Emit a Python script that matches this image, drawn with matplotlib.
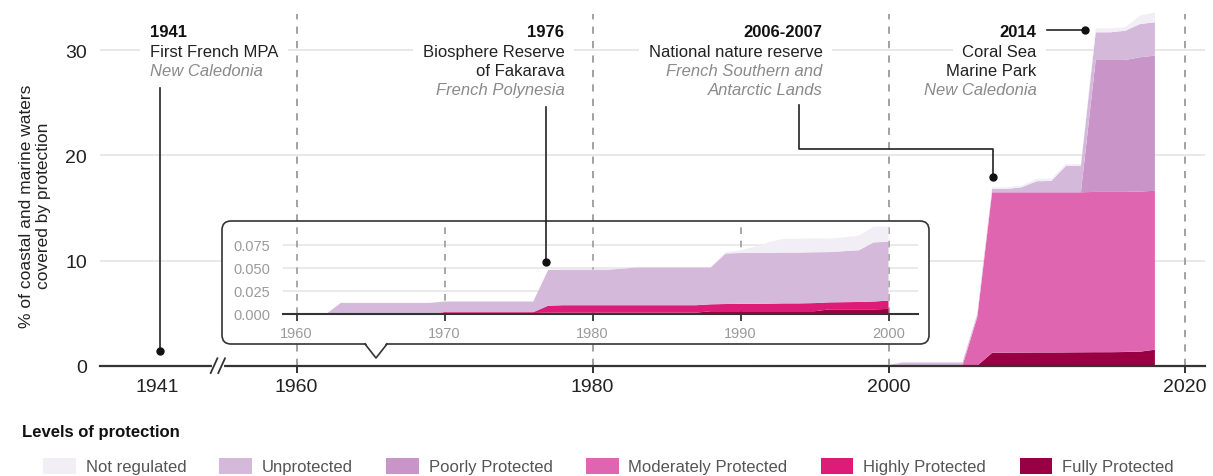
import matplotlib
matplotlib.use("Agg")
import matplotlib.pyplot as plt
from matplotlib.patches import FancyBboxPatch, Polygon, Patch
from matplotlib.lines import Line2D

plt.rcParams['font.family'] = ['Liberation Sans', 'DejaVu Sans']

# ---------------- data (% of coastal and marine waters) ----------------
years = list(range(1960, 2019))

fully = ([0] * 10 + [0.001] * 7 + [0.0015] * 11 + [0.003] * 8 + [0.005] * 4 + [0.0055]
         + [0.006] * 5 + [0.006]
         + [1.22, 1.23, 1.24, 1.25, 1.25, 1.26, 1.27, 1.28, 1.28, 1.30, 1.33, 1.52])
highly = ([0] * 10 + [0.001] * 7 + [0.0075] + [0.008] * 10
          + [0.0075, 0.0078, 0.008, 0.008, 0.0082, 0.0085, 0.0085, 0.0088]
          + [0.0076, 0.0078, 0.008, 0.0085] + [0.009]
          + [0.01] * 5 + [0.012] + [0.012] * 12)
moderately = ([0] * 46 + [4.6]
              + [15.25, 15.24, 15.23, 15.22, 15.22, 15.21, 15.20, 15.23, 15.23, 15.21, 15.21, 15.10])
poorly = [0] * 54 + [12.54, 12.54, 12.54, 12.77, 12.84]
unprotected = ([0, 0, 0] + [0.012] * 7 + [0.0115] * 7 + [0.0386] + [0.0385] * 4 + [0.0395]
               + [0.041] * 5 + [0.040] + [0.0547] + [0.055] * 6
               + [0.0544, 0.0552, 0.056, 0.064] + [0.0636]
               + [0.30] * 5 + [0.30]
               + [0.32, 0.32, 0.48, 1.05, 1.08, 2.53, 2.53, 2.63, 2.63, 2.78, 3.16, 3.17])
not_regulated = ([0] * 17 + [0.0005] * 11 + [0.0005]
                 + [0.0015, 0.003, 0.007, 0.012] + [0.015] * 3
                 + [0.0145, 0.015, 0.0157, 0.017] + [0.0165]
                 + [0.05] * 5 + [0.05]
                 + [0.16, 0.16, 0.15, 0.22, 0.22, 0.16, 0.16, 0.38, 0.38, 0.33, 0.79, 0.95])

levels = ['Fully Protected', 'Highly Protected', 'Moderately Protected',
          'Poorly Protected', 'Unprotected', 'Not regulated']
colors = ['#980043', '#dd1c77', '#df65b0', '#c994c7', '#d4b9da', '#f1eef6']
series = [fully, highly, moderately, poorly, unprotected, not_regulated]

main_yticks = [0, 10, 20, 30]
main_xticks = [1960, 1980, 2000, 2020]
inset_xticks = [1960, 1970, 1980, 1990, 2000]
inset_yticks = [0.0, 0.025, 0.05, 0.075]
inset_end = 2000

# ---------------- layout helpers ----------------
W, H = 1213, 477
fig = plt.figure(figsize=(W / 100, H / 100), dpi=100)

def fx(px):
    return px / W

def fy(py):
    return 1 - py / H

# main axes: 1960 at 296.5px, 14.8 px/yr ; y=0 at 366.7px, 10.52 px/unit
def X(px):
    return 1960 + (px - 296.5) / 14.8

def Y(py):
    return (366.7 - py) / 10.52

ax = fig.add_axes([fx(100), fy(366.7), fx(1205) - fx(100), 366.7 / H])
ax.set_zorder(1)
ax.set_xlim(X(100), X(1205))
ax.set_ylim(0, Y(0))

ax.stackplot(years, *series, colors=colors, linewidth=0, zorder=3)

for v in main_yticks[1:]:
    ax.axhline(v, color='#e6e6e6', lw=1.3, zorder=1)
ax.vlines(main_xticks, 0, Y(15), colors='#9a9a9a', linestyles=(0, (4, 4)), lw=1.3, zorder=2)

for s in ['left', 'top', 'right']:
    ax.spines[s].set_visible(False)
ax.spines['bottom'].set_color('#333333')
ax.spines['bottom'].set_linewidth(1.6)
ax.spines['bottom'].set_zorder(4)

x1941 = X(157)
ax.set_xticks([x1941] + main_xticks, labels=['1941'] + [str(t) for t in main_xticks])
ax.xaxis.get_major_ticks()[0].tick1line.set_visible(False)
ax.tick_params(axis='x', length=5, width=1.4, color='#333333', pad=3.5,
               labelsize=14, labelcolor='#222222')
ax.set_yticks(main_yticks)
ax.tick_params(axis='y', length=0, pad=9.5, labelsize=14, labelcolor='#222222')

# axis break //
ax.add_line(Line2D([X(213.5), X(222)], [Y(366.7), Y(366.7)], color='white', lw=3,
                   zorder=5, clip_on=False))
for x0 in (210.7, 218.3):
    ax.add_line(Line2D([X(x0), X(x0 + 6.7)], [Y(374), Y(359.3)], color='#333333', lw=1.3,
                       zorder=6, clip_on=False))

fig.text(fx(35), fy(206), '% of coastal and marine waters\ncovered by protection',
         rotation=90, ha='center', va='center', fontsize=12.5, color='#222222',
         multialignment='center', linespacing=1.15)

# ---------------- annotations ----------------
def block(x_px, lines, ha):
    baselines = [37, 57, 76, 95]
    for i, (txt, style) in enumerate(lines):
        kw = dict(fontsize=12, ha=ha, va='baseline', clip_on=False)
        if style == 'b':
            kw.update(fontweight='bold', color='#111111')
        elif style == 'i':
            kw.update(style='italic', color='#8a8a8a')
        else:
            kw.update(color='#222222')
        if i == 1:
            kw.update(bbox=dict(facecolor='white', edgecolor='none', pad=7), zorder=6)
        else:
            kw.update(zorder=7)
        ax.text(X(x_px), Y(baselines[i]), txt, **kw)

block(150, [('1941', 'b'), ('First French MPA', 'n'), ('New Caledonia', 'i')], 'left')
block(564.3, [('1976', 'b'), ('Biosphere Reserve', 'n'), ('of Fakarava', 'n'),
              ('French Polynesia', 'i')], 'right')
block(822.7, [('2006-2007', 'b'), ('National nature reserve', 'n'),
              ('French Southern and', 'i'), ('Antarctic Lands', 'i')], 'right')
block(1036.7, [('2014', 'b'), ('Coral Sea', 'n'), ('Marine Park', 'n'),
               ('New Caledonia', 'i')], 'right')

# ---------------- inset box ----------------
box = FancyBboxPatch((2.22, (H - 345) / 100), 7.07, 1.23,
                     boxstyle="round,pad=0,rounding_size=0.09",
                     transform=fig.dpi_scale_trans, facecolor='white',
                     edgecolor='#333333', lw=1.2, zorder=2)
fig.add_artist(box)
fig.add_artist(Polygon([(3.655, 1.335), (3.865, 1.335), (3.76, 1.19)], closed=True,
                       facecolor='white', edgecolor='none',
                       transform=fig.dpi_scale_trans, zorder=2.1))
fig.add_artist(Line2D([3.65, 3.76, 3.87], [1.32, 1.18, 1.32], color='#333333', lw=1.2,
                      transform=fig.dpi_scale_trans, zorder=2.2))

# ---------------- inset axes ----------------
n_in = years.index(inset_end) + 1
axi = fig.add_axes([fx(283), fy(315), fx(918) - fx(283), (315 - 227.2) / H])
axi.set_zorder(3)
axi.patch.set_alpha(0)
axi.set_xlim(X(283), X(918))
axi.set_ylim(0, 0.095)
axi.stackplot(years[:n_in], *[s[:n_in] for s in series], colors=colors, linewidth=0,
              zorder=3)
for v in inset_yticks[1:]:
    axi.axhline(v, color='#e6e6e6', lw=1.2, zorder=1)
axi.vlines(inset_xticks, 0, 0.095, colors='#9a9a9a', linestyles=(0, (4, 4)), lw=1.2,
           zorder=2)
for s in ['left', 'top', 'right']:
    axi.spines[s].set_visible(False)
axi.spines['bottom'].set_color('#333333')
axi.spines['bottom'].set_linewidth(1.5)
axi.spines['bottom'].set_zorder(4)
axi.set_xticks(inset_xticks)
axi.set_yticks(inset_yticks, labels=[f'{v:.3f}' for v in inset_yticks])
axi.tick_params(axis='x', length=5, width=1.3, color='#333333', pad=4,
                labelsize=10.5, labelcolor='#9a9a9a')
axi.tick_params(axis='y', length=0, pad=9, labelsize=10.5, labelcolor='#9a9a9a')

# ---------------- connectors ----------------
def conn(xs, ys, dot):
    fig.add_artist(Line2D(xs, ys, color='#222222', lw=1.2, transform=ax.transData,
                          zorder=8, clip_on=False))
    fig.add_artist(Line2D([dot[0]], [dot[1]], marker='o', ms=5, color='#111111',
                          transform=ax.transData, zorder=9, clip_on=False))

conn([X(160), X(160)], [Y(89), Y(351.7)], (X(160), Y(351.7)))
# 1976 dot sits in the inset
d76 = ax.transData.inverted().transform(axi.transData.transform((X(546), 0.056)))
conn([X(546), X(546)], [Y(108), d76[1]], (X(546), d76[1]))
conn([X(799), X(799), X(992.7), X(992.7)], [Y(106), Y(150), Y(150), Y(177.7)],
     (X(992.7), Y(177.7)))
conn([X(1046.7), X(1085)], [Y(31), Y(31)], (X(1085), Y(31)))

# ---------------- legend ----------------
fig.text(fx(22), fy(433), 'Levels of protection', fontsize=12, fontweight='bold',
         color='#111111', va='center')
handles = [Patch(facecolor=c, edgecolor='none', label=l)
           for l, c in zip(levels[::-1], colors[::-1])]
fig.legend(handles=handles, loc='center left', bbox_to_anchor=(fx(43), fy(467)),
           ncol=6, frameon=False, fontsize=12, handlelength=1.95, handleheight=1.1,
           handletextpad=0.6, columnspacing=2.0, borderpad=0, borderaxespad=0,
           labelcolor='#555555')

fig.savefig('out.png', dpi=100)
